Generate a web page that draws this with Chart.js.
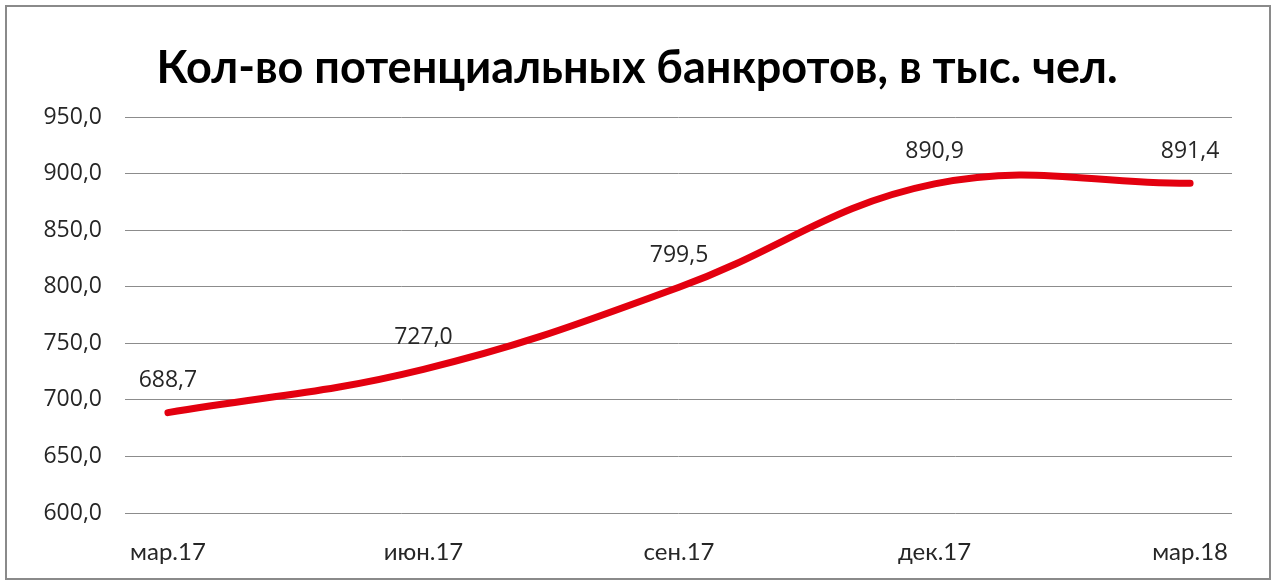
<!DOCTYPE html>
<html lang="ru">
<head>
<meta charset="utf-8">
<title>Кол-во потенциальных банкротов</title>
<script src="https://cdn.jsdelivr.net/npm/chart.js@4/dist/chart.umd.min.js"></script>
<style>
  html, body { margin: 0; padding: 0; background: #fff; }
  #wrap { position: relative; width: 1280px; height: 586px; }
</style>
</head>
<body>
<div id="wrap"><canvas id="c" width="1280" height="586"></canvas></div>
<script>
// Quarterly figures, thousands of people
const categories = ['мар.17', 'июн.17', 'сен.17', 'дек.17', 'мар.18'];
const values = [688.7, 727.0, 799.5, 890.9, 891.4];
const yTicks = [600, 650, 700, 750, 800, 850, 900, 950];
const titleText = 'Кол-во потенциальных банкротов, в тыс. чел.';

const fmt = v => v.toFixed(1).replace('.', ',');

// Frame, title and value labels
const decor = {
  id: 'decor',
  beforeDraw(chart) {
    const ctx = chart.ctx;
    ctx.save();
    ctx.fillStyle = '#fff';
    ctx.fillRect(0, 0, chart.width, chart.height);
    ctx.strokeStyle = '#8a8a8a';
    ctx.lineWidth = 2;
    ctx.strokeRect(6, 6, 1264, 573);
    ctx.fillStyle = '#000';
    ctx.font = 'bold 45px Lato';
    ctx.textAlign = 'center';
    ctx.textBaseline = 'alphabetic';
    ctx.fillText(titleText, 637, 83);
    ctx.restore();
  },
  afterDatasetsDraw(chart) {
    const ctx = chart.ctx;
    const meta = chart.getDatasetMeta(0);
    ctx.save();
    ctx.fillStyle = '#262626';
    ctx.font = '23px "Open Sans"';
    ctx.textAlign = 'center';
    ctx.textBaseline = 'middle';
    meta.data.forEach((pt, i) => {
      ctx.fillText(fmt(values[i]), pt.x, pt.y - 32);
    });
    ctx.restore();
  }
};

new Chart(document.getElementById('c'), {
  type: 'line',
  data: {
    datasets: [{
      data: values.map((v, i) => ({ x: i, y: v })),
      borderColor: '#e3000f',
      borderWidth: 7,
      borderCapStyle: 'round',
      borderJoinStyle: 'round',
      pointRadius: 0,
      tension: 0.4,
      fill: false
    }]
  },
  options: {
    responsive: false,
    animation: false,
    layout: { padding: { left: 0, right: 48, top: 117, bottom: 0 } },
    plugins: { legend: { display: false }, tooltip: { enabled: false } },
    scales: {
      x: {
        type: 'linear',
        min: -0.168,
        max: 4.164,
        afterBuildTicks: s => { s.ticks = categories.map((_, i) => ({ value: i })); },
        afterFit: s => { s.height = 73; },
        grid: { display: false, drawTicks: false },
        border: { display: false },
        ticks: {
          callback: v => categories[v],
          color: '#262626',
          font: { family: 'Lato', size: 24 },
          padding: 25,
          maxRotation: 0,
          autoSkip: false
        }
      },
      y: {
        min: 600,
        max: 950,
        afterBuildTicks: s => { s.ticks = yTicks.map(v => ({ value: v })); },
        afterFit: s => { s.width = 125; },
        grid: { color: '#8c8c8c', lineWidth: 1, drawTicks: false },
        border: { display: false },
        ticks: {
          callback: v => fmt(v),
          color: '#262626',
          font: { family: '"Open Sans"', size: 23 },
          padding: 23
        }
      }
    }
  },
  plugins: [decor]
});
</script>
</body>
</html>
